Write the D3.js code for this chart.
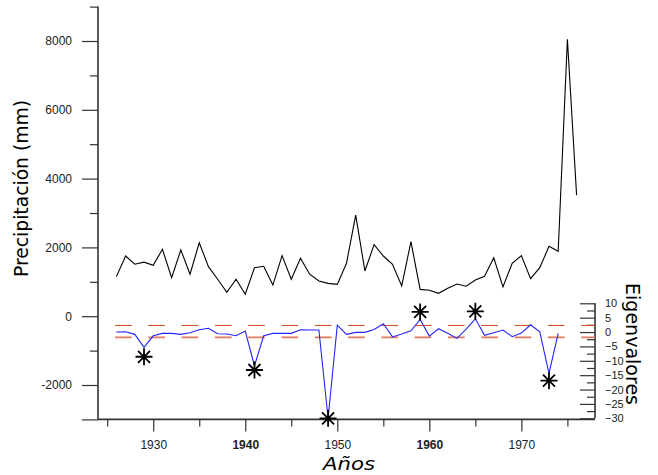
<!DOCTYPE html>
<html>
<head>
<meta charset="utf-8">
<script src="https://cdn.jsdelivr.net/npm/d3@7"></script>
<style>
  html, body { margin: 0; padding: 0; background: #fff; }
  svg { display: block; }
</style>
</head>
<body>
<svg id="chart" width="658" height="475"></svg>
<script>
// Annual precipitation (mm), 1926-1976
const years = [1926, 1927, 1928, 1929, 1930, 1931, 1932, 1933, 1934, 1935,
  1936, 1937, 1938, 1939, 1940, 1941, 1942, 1943, 1944, 1945,
  1946, 1947, 1948, 1949, 1950, 1951, 1952, 1953, 1954, 1955,
  1956, 1957, 1958, 1959, 1960, 1961, 1962, 1963, 1964, 1965,
  1966, 1967, 1968, 1969, 1970, 1971, 1972, 1973, 1974, 1975, 1976];
const precipitation = [1150, 1750, 1510, 1570, 1480, 1945, 1120, 1925, 1220, 2135,
  1440, 1075, 695, 1075, 640, 1410, 1450, 905, 1760, 1075,
  1685, 1220, 1025, 955, 925, 1540, 2940, 1315, 2080, 1750,
  1510, 880, 2165, 780, 755, 665, 810, 935, 870, 1050,
  1160, 1700, 850, 1540, 1760, 1090, 1410, 2030, 1885, 8050, 3520];

// Eigenvalue series, 1926-1974 (right axis)
const eigenYears = [1926, 1927, 1928, 1929, 1930, 1931, 1932, 1933, 1934, 1935,
  1936, 1937, 1938, 1939, 1940, 1941, 1942, 1943, 1944, 1945,
  1946, 1947, 1948, 1949, 1950, 1951, 1952, 1953, 1954, 1955,
  1956, 1957, 1958, 1959, 1960, 1961, 1962, 1963, 1964, 1965,
  1966, 1967, 1968, 1969, 1970, 1971, 1972, 1973, 1974];
const eigenvalues = [0.0, 0.1, -0.8, -5.3, -1.3, -0.45, -0.45, -0.8, -0.25, 0.8,
  1.3, -0.6, -0.7, -1.3, 0.35, -11.8, -1.3, -0.45, -0.45, -0.45,
  0.8, 0.7, 0.7, -30.0, 2.4, -0.8, -0.1, -0.1, 0.9, 2.9,
  -1.7, -0.7, 0.45, 4.4, -1.4, 1.15, -0.45, -2.2, 1.05, 4.6,
  -1.15, -0.25, 0.7, -1.6, -0.35, 2.55, 0.1, -14.4, -0.45];

// Flagged anomalies (asterisks)
const anomalyYears = [1929, 1941, 1949, 1959, 1965, 1973];
const anomalyValues = [-8.6, -13.2, -30.0, 7.0, 7.2, -16.9];

// Threshold levels (dashed)
const thresholds = [2.3, -1.85];
const thresholdColors = ["#cf4a1c", "#e27a5c"];
const thresholdWidths = [1, 1.6];

// Tick values
const yearTicks = [1930, 1940, 1950, 1960, 1970];
const yearMinorTicks = [1925, 1935, 1945, 1955, 1965, 1975];
const boldYears = [1940, 1960];
const precipTicks = [-2000, 0, 2000, 4000, 6000, 8000];
const precipMinorTicks = [-1000, 1000, 3000, 5000, 7000, 9000];
const eigenTicks = [-30, -25, -20, -15, -10, -5, 0, 5, 10];
const eigenMinorTicks = [-27.5, -22.5, -17.5, -12.5, -7.5, -2.5, 2.5, 7.5];

const svg = d3.select("#chart");

const x = d3.scaleLinear().domain([1924, 1978]).range([98, 595]);
const yL = d3.scaleLinear().domain([-3000, 9000]).range([419.4, 6.6]);
const yR = d3.scaleLinear().domain([-30, 10]).range([418.3, 303.3]);

const axisColor = "#333";
const tickFont = "'Liberation Sans', Arial, sans-serif";

function styleAxis(g, fontSize) {
  g.selectAll(".domain").remove();
  g.selectAll(".tick line").attr("stroke", axisColor).attr("stroke-width", 1.2);
  g.selectAll(".tick text").attr("fill", "#222")
    .attr("font-family", tickFont).attr("font-size", fontSize);
}

// Left axis
const leftMinor = svg.append("g").attr("transform", "translate(98,0)")
  .call(d3.axisLeft(yL).tickValues(precipMinorTicks).tickSize(8).tickFormat(""));
styleAxis(leftMinor, 12);
const leftMajor = svg.append("g").attr("transform", "translate(98,0)")
  .call(d3.axisLeft(yL).tickValues(precipTicks.concat([-3000])).tickSize(16).tickPadding(10)
    .tickFormat(d => d === -3000 ? "" : d));
styleAxis(leftMajor, 12);
svg.append("line").attr("x1", 98).attr("x2", 98)
  .attr("y1", yL(9000)).attr("y2", yL(-3000))
  .attr("stroke", axisColor).attr("stroke-width", 1.6);

// Bottom axis
const bottomMinor = svg.append("g").attr("transform", `translate(0,${yL(-3000)})`)
  .call(d3.axisBottom(x).tickValues(yearMinorTicks).tickSize(7).tickFormat(""));
styleAxis(bottomMinor, 12);
const bottomMajor = svg.append("g").attr("transform", `translate(0,${yL(-3000)})`)
  .call(d3.axisBottom(x).tickValues(yearTicks).tickSize(12).tickPadding(9).tickFormat(d3.format("d")));
styleAxis(bottomMajor, 12);
bottomMajor.selectAll(".tick text")
  .attr("font-weight", d => boldYears.includes(d) ? "bold" : "normal");
svg.append("line").attr("x1", 98).attr("x2", 595)
  .attr("y1", yL(-3000)).attr("y2", yL(-3000))
  .attr("stroke", axisColor).attr("stroke-width", 1.6);

// Right axis (ticks point inward)
const rightMinor = svg.append("g").attr("transform", "translate(595,0)")
  .call(d3.axisRight(yR).tickValues(eigenMinorTicks).tickSize(-8).tickFormat(""));
styleAxis(rightMinor, 11);
const rightMajor = svg.append("g").attr("transform", "translate(595,0)")
  .call(d3.axisRight(yR).tickValues(eigenTicks).tickSize(-15).tickPadding(10));
styleAxis(rightMajor, 11);
svg.append("line").attr("x1", 595).attr("x2", 595)
  .attr("y1", yR(10)).attr("y2", yR(-30))
  .attr("stroke", axisColor).attr("stroke-width", 1.6);

// Threshold dashed lines
svg.append("g").selectAll("line").data(thresholds).join("line")
  .attr("x1", 115).attr("x2", 595)
  .attr("y1", d => yR(d)).attr("y2", d => yR(d))
  .attr("stroke", (d, i) => thresholdColors[i])
  .attr("stroke-width", (d, i) => thresholdWidths[i])
  .attr("stroke-dasharray", "16.7 16.6");

// Precipitation line
svg.append("path")
  .datum(years.map((y, i) => [y, precipitation[i]]))
  .attr("fill", "none").attr("stroke", "#000").attr("stroke-width", 1.1)
  .attr("d", d3.line().x(d => x(d[0])).y(d => yL(d[1])));

// Eigenvalue line
svg.append("path")
  .datum(eigenYears.map((y, i) => [y, eigenvalues[i]]))
  .attr("fill", "none").attr("stroke", "#2424ff").attr("stroke-width", 1.1)
  .attr("d", d3.line().x(d => x(d[0])).y(d => yR(d[1])));

// Asterisk markers
const r = 8.5;
const star = d3.path();
for (let k = 0; k < 4; k++) {
  const a = k * Math.PI / 4;
  star.moveTo(-r * Math.cos(a), -r * Math.sin(a));
  star.lineTo(r * Math.cos(a), r * Math.sin(a));
}
svg.append("g").selectAll("path").data(anomalyYears.map((y, i) => [y, anomalyValues[i]])).join("path")
  .attr("transform", d => `translate(${x(d[0])},${yR(d[1])})`)
  .attr("d", star.toString())
  .attr("stroke", "#000").attr("stroke-width", 1.8).attr("fill", "none");

// Axis titles
const titleFont = "'DejaVu Sans', 'Noto Sans', sans-serif";
svg.append("text")
  .attr("transform", "translate(28,188.5) rotate(-90)")
  .attr("text-anchor", "middle")
  .attr("font-family", titleFont).attr("font-size", 19)
  .attr("textLength", 177).attr("lengthAdjust", "spacingAndGlyphs")
  .attr("fill", "#000")
  .text("Precipitación (mm)");

svg.append("text")
  .attr("transform", "translate(626,344) rotate(90)")
  .attr("text-anchor", "middle")
  .attr("font-family", titleFont).attr("font-size", 19)
  .attr("textLength", 122).attr("lengthAdjust", "spacingAndGlyphs")
  .attr("fill", "#000")
  .text("Eigenvalores");

svg.append("text")
  .attr("x", 349).attr("y", 470)
  .attr("text-anchor", "middle")
  .attr("font-family", titleFont).attr("font-size", 18).attr("font-style", "italic")
  .attr("textLength", 52).attr("lengthAdjust", "spacingAndGlyphs")
  .attr("fill", "#000")
  .text("Años");
</script>
</body>
</html>
